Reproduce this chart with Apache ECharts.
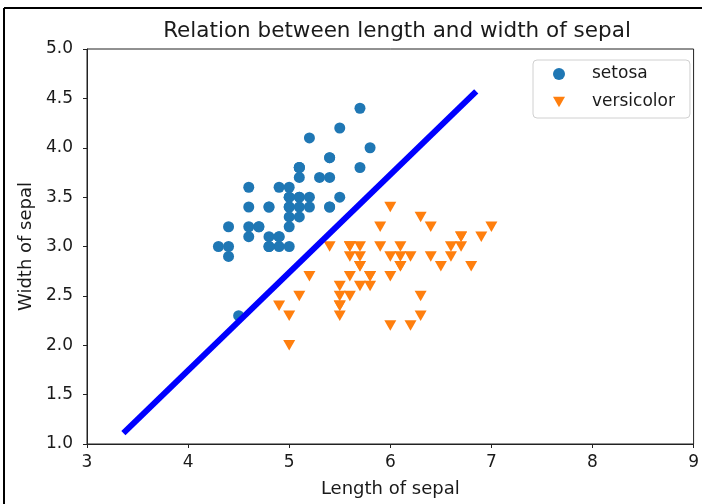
<!DOCTYPE html>
<html>
<head>
<meta charset="utf-8">
<script src="https://cdn.jsdelivr.net/npm/echarts@6/dist/echarts.min.js"></script>
<style>
  html, body { margin: 0; padding: 0; background: #fff; }
  #chart { width: 702px; height: 504px; }
</style>
</head>
<body>
<div id="chart"></div>
<script>
// Iris sepal measurements (cm)
const setosaLength = [5.1,4.9,4.7,4.6,5.0,5.4,4.6,5.0,4.4,4.9,5.4,4.8,4.8,4.3,5.8,5.7,5.4,5.1,5.7,5.1,5.4,5.1,4.6,5.1,4.8,5.0,5.0,5.2,5.2,4.7,4.8,5.4,5.2,5.5,4.9,5.0,5.5,4.9,4.4,5.1,5.0,4.5,4.4,5.0,5.1,4.8,5.1,4.6,5.3,5.0];
const setosaWidth  = [3.5,3.0,3.2,3.1,3.6,3.9,3.4,3.4,2.9,3.1,3.7,3.4,3.0,3.0,4.0,4.4,3.9,3.5,3.8,3.8,3.4,3.7,3.6,3.3,3.4,3.0,3.4,3.5,3.4,3.2,3.1,3.4,4.1,4.2,3.1,3.2,3.5,3.6,3.0,3.4,3.5,2.3,3.2,3.5,3.8,3.0,3.8,3.2,3.7,3.3];
const versicolorLength = [7.0,6.4,6.9,5.5,6.5,5.7,6.3,4.9,6.6,5.2,5.0,5.9,6.0,6.1,5.6,6.7,5.6,5.8,6.2,5.6,5.9,6.1,6.3,6.1,6.4,6.6,6.8,6.7,6.0,5.7,5.5,5.5,5.8,6.0,5.4,6.0,6.7,6.3,5.6,5.5,5.5,6.1,5.8,5.0,5.6,5.7,5.7,6.2,5.1,5.7];
const versicolorWidth  = [3.2,3.2,3.1,2.3,2.8,2.8,3.3,2.4,2.9,2.7,2.0,3.0,2.2,2.9,2.9,3.1,3.0,2.7,2.2,2.5,3.2,2.8,2.5,2.8,2.9,3.0,2.8,3.0,2.9,2.6,2.4,2.4,2.7,2.7,3.0,3.4,3.1,2.3,3.0,2.5,2.6,3.0,2.6,2.3,2.7,3.0,2.9,2.9,2.5,2.8];

// Separating line between the two species
const boundaryX = [3.36, 6.85];
const boundaryY = [1.11, 4.57];

const xTicks = [3, 4, 5, 6, 7, 8, 9];
const yTicks = [1.0, 1.5, 2.0, 2.5, 3.0, 3.5, 4.0, 4.5, 5.0];

const pairs = (xs, ys) => xs.map((x, i) => [x, ys[i]]);

const FONT = 'DejaVu Sans';
const TEXT = '#1a1a1a';
const downTriangle = 'path://M0,0L20,0L10,17.32Z';

const chart = echarts.init(document.getElementById('chart'), null, { renderer: 'canvas' });

chart.setOption({
  animation: false,
  backgroundColor: '#fff',
  textStyle: { fontFamily: FONT },
  title: {
    text: 'Relation between length and width of sepal',
    left: 392,
    textAlign: 'center',
    top: 15,
    textStyle: { fontFamily: FONT, fontSize: 21.5, fontWeight: 'normal', color: TEXT }
  },
  grid: {
    left: 87, right: 5, top: 49, bottom: 60,
    show: true, borderColor: '#222', borderWidth: 1, backgroundColor: 'transparent'
  },
  legend: {
    orient: 'vertical',
    left: 533, top: 60,
    data: ['setosa', 'versicolor'],
    itemWidth: 12, itemHeight: 12,
    itemGap: 10,
    padding: [5, 15, 7, 20],
    backgroundColor: '#fff',
    borderColor: '#d0d0d0', borderWidth: 1, borderRadius: 4,
    textStyle: { fontFamily: FONT, fontSize: 17, color: TEXT, lineHeight: 18, padding: [0, 0, 0, 22] }
  },
  xAxis: {
    type: 'value',
    min: xTicks[0], max: xTicks[xTicks.length - 1], interval: 1,
    name: 'Length of sepal',
    nameLocation: 'middle', nameGap: 36,
    nameTextStyle: { fontFamily: FONT, fontSize: 18, color: TEXT },
    axisLine: { show: true, lineStyle: { color: '#222', width: 1 } },
    axisTick: { show: true, inside: false, length: 4, lineStyle: { color: '#222' } },
    axisLabel: { fontFamily: FONT, fontSize: 17, color: TEXT, margin: 10 },
    splitLine: { show: false }
  },
  yAxis: {
    type: 'value',
    min: yTicks[0], max: yTicks[yTicks.length - 1], interval: 0.5,
    name: 'Width of sepal',
    nameLocation: 'middle', nameGap: 52, nameRotate: 90,
    nameTextStyle: { fontFamily: FONT, fontSize: 18, color: TEXT },
    axisLine: { show: true, lineStyle: { color: '#222', width: 1 } },
    axisTick: { show: true, inside: false, length: 4, lineStyle: { color: '#222' } },
    axisLabel: { fontFamily: FONT, fontSize: 17, color: TEXT, margin: 14, formatter: v => v.toFixed(1) },
    splitLine: { show: false }
  },
  series: [
    {
      name: 'setosa',
      type: 'scatter',
      symbol: 'circle',
      symbolSize: 11,
      itemStyle: { color: '#1f77b4', opacity: 1 },
      data: pairs(setosaLength, setosaWidth),
      z: 2
    },
    {
      name: 'versicolor',
      type: 'scatter',
      symbol: downTriangle,
      symbolSize: [12, 10.5],
      itemStyle: { color: '#ff7f0e', opacity: 1 },
      data: pairs(versicolorLength, versicolorWidth),
      z: 2
    },
    {
      name: 'boundary',
      type: 'line',
      symbol: 'none',
      silent: true,
      lineStyle: { color: '#0000ff', width: 6, cap: 'butt' },
      data: pairs(boundaryX, boundaryY),
      z: 3
    }
  ],
  graphic: [
    { type: 'line', shape: { x1: 4, y1: 8, x2: 702, y2: 8 }, style: { stroke: '#000', lineWidth: 2 }, silent: true },
    { type: 'line', shape: { x1: 4, y1: 8, x2: 4, y2: 504 }, style: { stroke: '#000', lineWidth: 2 }, silent: true }
  ]
});
</script>
</body>
</html>
